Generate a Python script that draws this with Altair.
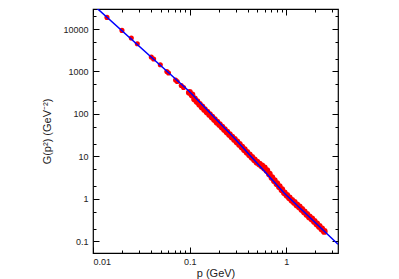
import altair as alt
import pandas as pd

# lattice data (sparse low-momentum points)
p_sparse = [0.01395, 0.01994, 0.02492, 0.02875, 0.0401, 0.0424, 0.0497, 0.0581,
            0.0605, 0.0715, 0.0744, 0.0819, 0.0865, 0.0974]
G_sparse = [18770, 9270, 6135, 4502, 2186, 1961, 1439, 1000,
            917, 627, 581, 468, 420, 320]

# lattice data (dense region)
p_dense = [0.0998, 0.1059, 0.1124, 0.1192, 0.1265, 0.1343, 0.1425, 0.1513, 0.1606, 0.1704,
           0.1808, 0.1919, 0.2037, 0.2162, 0.2294, 0.2434, 0.2584, 0.2742, 0.2910, 0.3088,
           0.3277, 0.3478, 0.3691, 0.3917, 0.4157, 0.4412, 0.4683, 0.4969, 0.5274, 0.5597,
           0.5940, 0.6304, 0.6690, 0.7100, 0.7535, 0.7997, 0.8487, 0.9006, 0.9559, 1.0144,
           1.0765, 1.1427, 1.2126, 1.2869, 1.3657, 1.4495, 1.5382, 1.6325, 1.7324, 1.8389,
           1.9513, 2.0706, 2.1973, 2.3322, 2.4750]
G_dense = [320.0, 280.0, 225.0, 195.0, 168.0, 146.0, 127.0, 111.0, 97.0, 84.5,
           73.5, 64.0, 56.0, 49.0, 42.8, 37.4, 32.6, 28.6, 25.1, 21.9,
           19.1, 16.6, 14.4, 12.5, 10.9, 9.5, 8.3, 7.3, 6.6, 5.95,
           5.35, 4.65, 3.85, 3.17, 2.68, 2.27, 1.93, 1.64, 1.39, 1.21,
           1.055, 0.920, 0.825, 0.720, 0.646, 0.564, 0.493, 0.430, 0.375, 0.337,
           0.294, 0.257, 0.2240, 0.1955, 0.1710]

# fit curve
p_fit = [0.01, 0.0976, 0.291, 0.956, 3.43]
G_fit = [37400, 351, 26.8, 1.355, 0.085]

x_major = [0.01, 0.1, 1]
x_minor = [0.02, 0.03, 0.04, 0.05, 0.06, 0.07, 0.08, 0.09,
           0.2, 0.3, 0.4, 0.5, 0.6, 0.7, 0.8, 0.9, 2, 3]
y_major = [0.1, 1, 10, 100, 1000, 10000]
y_minor = [0.2, 0.5, 2, 5, 20, 50, 200, 500, 2000, 5000, 20000]

W, H = 245, 244
FONT = "Liberation Sans"

pts_s = pd.DataFrame({"p": p_sparse, "G": G_sparse})
pts_d = pd.DataFrame({"p": p_dense, "G": G_dense})
fit = pd.DataFrame({"p": p_fit, "G": G_fit})

xs = alt.Scale(type="log", domain=[0.01, 3.43], nice=False)
ys = alt.Scale(type="log", domain=[0.053, 29600], nice=False)


def tick_axis(orient, offset, values, size):
    return alt.Axis(orient=orient, offset=offset, values=values, tickSize=size,
                    labels=False, domain=False, grid=False, title=None,
                    ticks=True, tickColor="black", tickWidth=1)


points = alt.Chart(pts_s).mark_circle(color="#ff0000", size=26, opacity=1).encode(
    x=alt.X("p:Q", scale=xs, axis=alt.Axis(
        orient="bottom", values=x_major, format="~g", ticks=False, domain=False,
        grid=False, labelFont=FONT, labelFontSize=9, labelColor="#222",
        labelPadding=4, title="p (GeV)", titleFont=FONT, titleFontSize=11,
        titleFontWeight="normal", titleColor="#222", titlePadding=1)),
    y=alt.Y("G:Q", scale=ys, axis=alt.Axis(
        orient="left", values=y_major, format="~g", ticks=False, domain=False,
        grid=False, labelFont=FONT, labelFontSize=9, labelColor="#222",
        labelPadding=5, title="G(p²) (GeV⁻²)", titleFont=FONT, titleFontSize=11,
        titleFontWeight="normal", titleColor="#222", titlePadding=10)),
)

dense = alt.Chart(pts_d).mark_circle(color="#ff0000", size=45, opacity=1).encode(
    x=alt.X("p:Q", scale=xs, axis=tick_axis("top", -H, x_minor, 3)),
    y=alt.Y("G:Q", scale=ys, axis=tick_axis("right", -W, y_minor, 3)),
)

line = alt.Chart(fit).mark_line(color="#0000ff", strokeWidth=1.5, clip=True).encode(
    x=alt.X("p:Q", scale=xs, axis=tick_axis("top", -H, x_major, 6)),
    y=alt.Y("G:Q", scale=ys, axis=tick_axis("right", -W, y_major, 6)),
)

inv2 = alt.Chart(fit).mark_point(opacity=0).encode(
    x=alt.X("p:Q", scale=xs, axis=tick_axis("bottom", -H, x_minor, 3)),
    y=alt.Y("G:Q", scale=ys, axis=tick_axis("left", -W, y_minor, 3)),
)
inv3 = alt.Chart(fit).mark_point(opacity=0).encode(
    x=alt.X("p:Q", scale=xs, axis=tick_axis("bottom", -H, x_major, 6)),
    y=alt.Y("G:Q", scale=ys, axis=tick_axis("left", -W, y_major, 6)),
)

chart = alt.layer(points, dense, line, inv2, inv3).resolve_axis(
    x="independent", y="independent"
).properties(
    width=W, height=H,
    autosize=alt.AutoSizeParams(type="none"),
    padding={"left": 85, "top": 1, "right": 53, "bottom": 26},
).configure_view(stroke="black", strokeWidth=1.2)

chart.save("out.html", embed_options={"renderer": "svg", "actions": False})
